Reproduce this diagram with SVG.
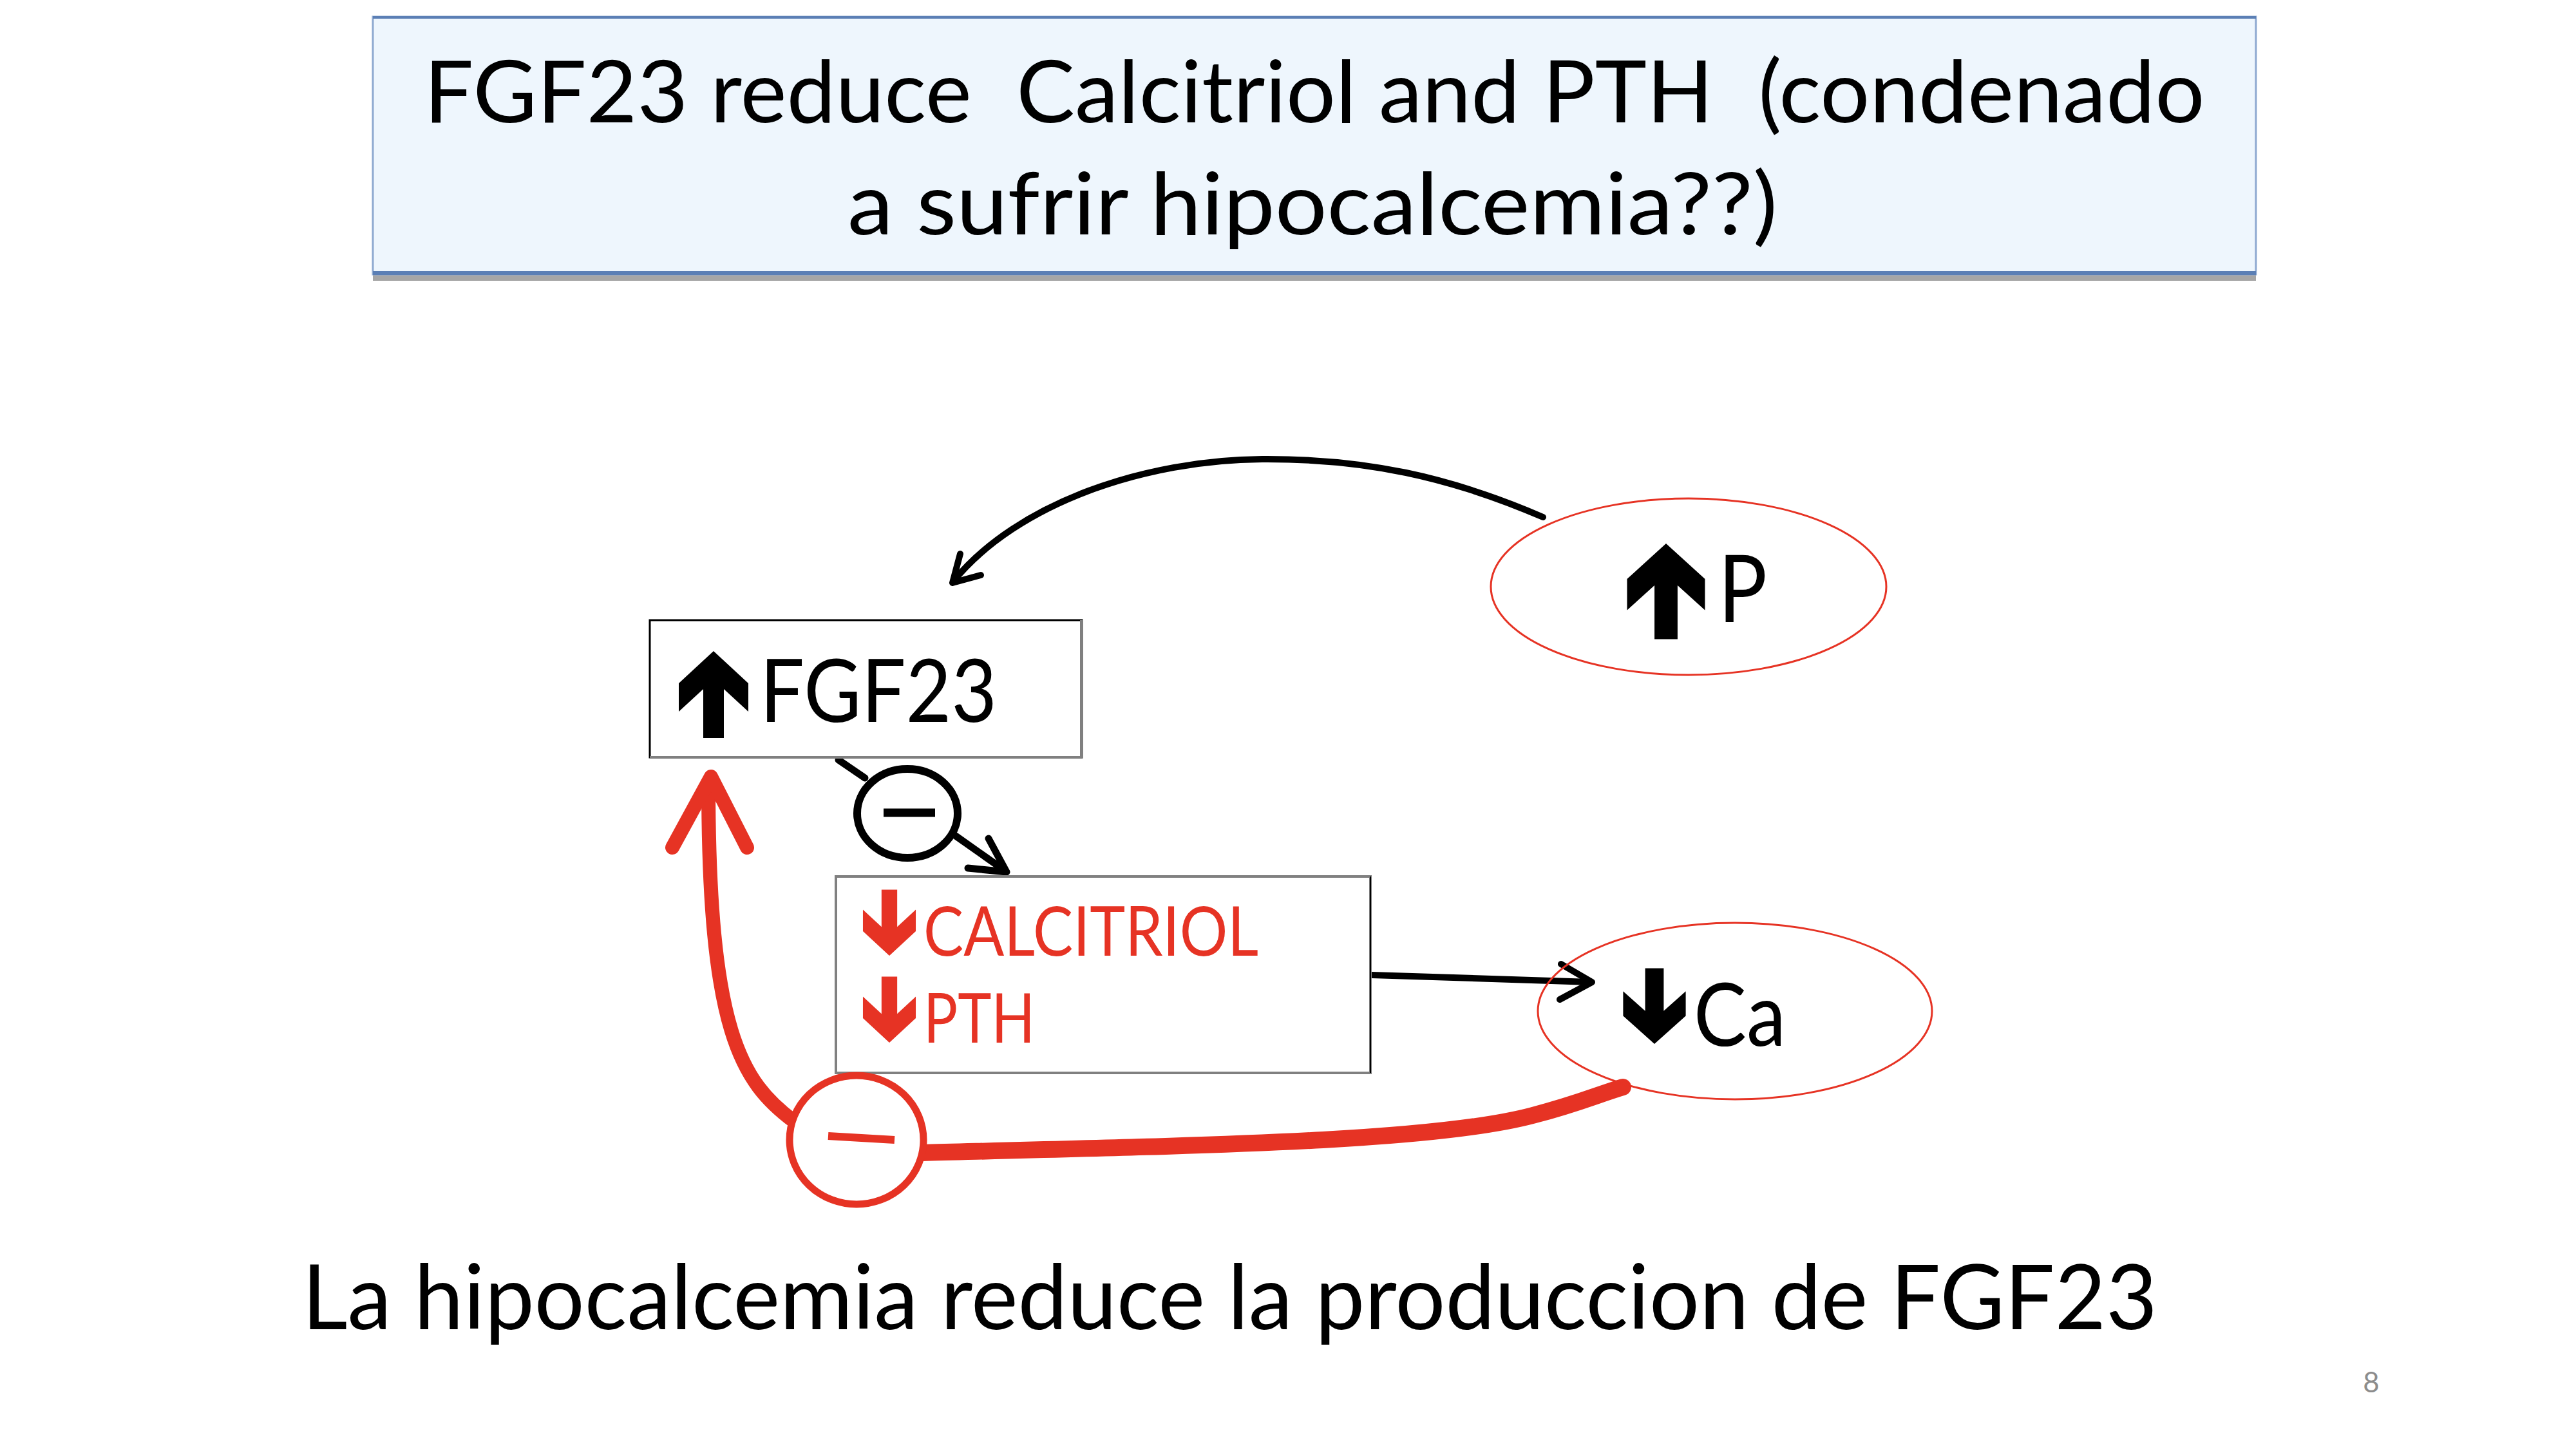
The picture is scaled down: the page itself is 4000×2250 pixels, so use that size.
<svg xmlns="http://www.w3.org/2000/svg" width="4000" height="2250" viewBox="0 0 4000 2250">
<style>
.t{font-family:Lato,"Open Sans","Liberation Sans",sans-serif;fill:#000}
.red{fill:#E63324}
.ell{fill:none;stroke:#E63324;stroke-width:3}
.blk{fill:none;stroke:#000;stroke-linecap:round;stroke-linejoin:round}
.rd{fill:none;stroke:#E63324;stroke-linecap:round;stroke-linejoin:round}
</style>
<defs>
<path id="arr" d="M0,0 L54,50 L54,94 L16,59 L16,135 L-16,135 L-16,59 L-54,94 L-54,50 Z"/>
</defs>
<rect width="4000" height="2250" fill="#fff"/>

<g id="title">
<rect x="579" y="426" width="2924" height="10" fill="#A6A6A6"/>
<rect x="579" y="26" width="2924" height="400" fill="#EEF6FD" stroke="#8EA9D0" stroke-width="3"/>
<line x1="579" y1="27" x2="3503" y2="27" stroke="#5B7FB5" stroke-width="4"/>
<line x1="579" y1="424" x2="3503" y2="424" stroke="#5B7FB5" stroke-width="6"/>
<text class="t" x="2041" y="190" font-size="134" text-anchor="middle" textLength="2765" lengthAdjust="spacingAndGlyphs" xml:space="preserve">FGF23 reduce  Calcitriol and PTH  (condenado</text>
<text class="t" x="2038" y="364" font-size="134" text-anchor="middle" textLength="1444" lengthAdjust="spacingAndGlyphs">a sufrir hipocalcemia??)</text>
</g>

<g id="connectors">
<path class="blk" stroke-width="10" d="M2396,803 C2250,740 2120,712 1960,713 C1780,714 1580,780 1480,903"/>
<path class="blk" stroke-width="10" d="M1491,860 L1479,905 L1523,893"/>
<line class="blk" stroke-width="11" x1="1302" y1="1180" x2="1343" y2="1208"/>
<line class="blk" stroke-width="11" x1="1484" y1="1298" x2="1562" y2="1353"/>
<path class="blk" stroke-width="11" d="M1535,1302 L1563,1354 L1503,1348"/>
<path class="blk" stroke-width="10" d="M2130,1514 L2470,1525"/>
<path class="blk" stroke-width="10" d="M2424,1497 L2472,1525 L2422,1552"/>
<path class="rd" stroke-width="26" stroke-linecap="butt" d="M1432,1790 C1900,1778 2230,1772 2380,1732 C2450,1714 2480,1700 2520,1688"/>
<path class="rd" stroke-width="22" d="M1234,1742 C1150,1680 1100,1600 1100,1215"/>
<path class="rd" stroke-width="22" d="M1044,1316 L1104,1206 L1160,1316"/>
</g>

<g id="node-fgf23">
<rect x="1009" y="963" width="671" height="213" fill="#fff" stroke="#000" stroke-width="3"/>
<path d="M1679,963 L1679,1176 L1009,1176" fill="none" stroke="#808080" stroke-width="4"/>
<use href="#arr" transform="translate(1108,1011)"/>
<text class="t" x="1180" y="1121" font-size="136" textLength="368" lengthAdjust="spacingAndGlyphs">FGF23</text>
</g>

<g id="node-inhibit1">
<ellipse cx="1409" cy="1263" rx="78" ry="69" fill="#fff" stroke="#000" stroke-width="12"/>
<line x1="1372" y1="1262" x2="1452" y2="1262" stroke="#000" stroke-width="13"/>
</g>

<g id="node-calcitriol-pth">
<rect x="1298" y="1361" width="830" height="305" fill="#fff" stroke="#808080" stroke-width="4"/>
<line x1="2128" y1="1361" x2="2128" y2="1666" stroke="#000" stroke-width="2"/>
<use href="#arr" class="red" transform="translate(1381,1484) scale(0.76,-0.76)"/>
<text class="t red" x="1434" y="1484" font-size="106" textLength="520" lengthAdjust="spacingAndGlyphs">CALCITRIOL</text>
<use href="#arr" class="red" transform="translate(1381,1619) scale(0.76,-0.76)"/>
<text class="t red" x="1434" y="1619" font-size="106" textLength="173" lengthAdjust="spacingAndGlyphs">PTH</text>
</g>

<g id="node-p">
<ellipse class="ell" cx="2622" cy="911" rx="307" ry="137"/>
<use href="#arr" transform="translate(2587,844) scale(1.12,1.1)"/>
<text class="t" x="2668" y="966" font-size="146" textLength="76" lengthAdjust="spacingAndGlyphs">P</text>
</g>

<g id="node-ca">
<ellipse class="ell" cx="2694" cy="1570" rx="306" ry="137"/>
<use href="#arr" transform="translate(2569,1621) scale(0.9,-0.87)"/>
<text class="t" x="2630" y="1624" font-size="136" textLength="143" lengthAdjust="spacingAndGlyphs">Ca</text>
</g>

<g id="node-inhibit2">
<ellipse cx="1330" cy="1770" rx="104" ry="100" fill="#fff" stroke="#E63324" stroke-width="11"/>
<line x1="1286" y1="1764" x2="1389" y2="1770" stroke="#E63324" stroke-width="12"/>
</g>

<g id="caption">
<text class="t" x="469" y="2064" font-size="140" textLength="2881" lengthAdjust="spacingAndGlyphs">La hipocalcemia reduce la produccion de FGF23</text>
<text x="3682" y="2162" font-size="44" text-anchor="middle" font-family="Lato,'Open Sans',sans-serif" fill="#8C8C8C">8</text>
</g>
</svg>
